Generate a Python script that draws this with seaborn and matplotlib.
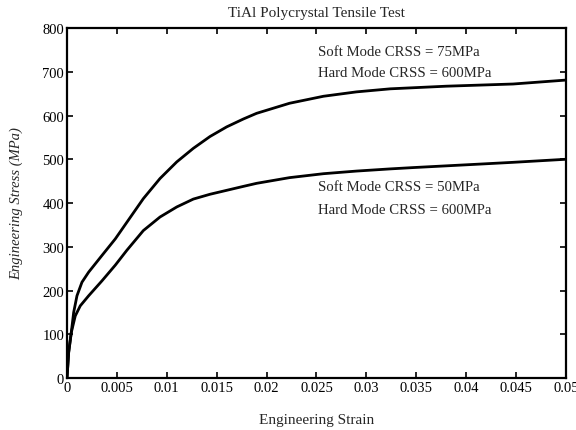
import numpy as np
import pandas as pd
import matplotlib
matplotlib.use("Agg")
import matplotlib.pyplot as plt
import seaborn as sns

# Data
strain_75 = [0.0, 0.00017, 0.00043, 0.00067, 0.001, 0.0015, 0.00217, 0.0035, 0.00484,
             0.006, 0.00765, 0.00932, 0.011, 0.01266, 0.01433, 0.016, 0.01767, 0.019,
             0.0223, 0.0257, 0.029, 0.0324, 0.038, 0.0447, 0.05]
stress_75 = [0, 59, 104, 150, 188, 219, 242, 280, 318,
             356, 410, 456, 494, 525, 552, 574, 592, 605,
             628, 644, 654, 661, 667, 672, 681]
strain_50 = [0.0, 0.00017, 0.00043, 0.00083, 0.00133, 0.00217, 0.0035, 0.00484,
             0.006, 0.00765, 0.00932, 0.011, 0.01266, 0.01433, 0.016, 0.01767, 0.019,
             0.0223, 0.0257, 0.029, 0.0324, 0.0347, 0.0414, 0.0447, 0.05]
stress_50 = [0, 59, 104, 142, 165, 188, 222, 258,
             292, 337, 368, 391, 409, 420, 429, 438, 445,
             458, 467, 473, 478, 481, 489, 493, 500]
labels_75 = ["Soft Mode CRSS = 75MPa", "Hard Mode CRSS = 600MPa"]
labels_50 = ["Soft Mode CRSS = 50MPa", "Hard Mode CRSS = 600MPa"]

df = pd.concat([
    pd.DataFrame({"strain": strain_75, "stress": stress_75, "case": "75"}),
    pd.DataFrame({"strain": strain_50, "stress": stress_50, "case": "50"}),
])

sns.set_style("ticks")
plt.rcParams["font.family"] = ["Liberation Serif", "DejaVu Serif"]

fig = plt.figure(figsize=(5.76, 4.31), dpi=100)
ax = fig.add_axes([0.1163, 0.1206, 0.8663, 0.8121])

sns.lineplot(data=df, x="strain", y="stress", units="case", estimator=None,
             color="black", lw=2.0, ax=ax, sort=False, legend=False)

ax.set_xlim(0, 0.05)
ax.set_ylim(0, 800)
ax.set_xticks(np.arange(0, 0.0501, 0.005))
ax.set_xticklabels(["0", "0.005", "0.01", "0.015", "0.02", "0.025", "0.03",
                    "0.035", "0.04", "0.045", "0.05"])
ax.set_yticks(np.arange(0, 801, 100))
ax.tick_params(direction="in", top=True, right=True, length=4, width=1.2,
               labelsize=10.5, pad=2, colors="black")
for s in ax.spines.values():
    s.set_linewidth(1.6)
    s.set_color("black")

ax.set_xlabel("Engineering Strain", fontsize=11, labelpad=14)
ax.set_ylabel("Engineering Stress (MPa)", fontsize=10.5, style="italic", labelpad=14)
ax.set_title("TiAl Polycrystal Tensile Test", fontsize=11, pad=9)

ax.text(0.0252, 747, labels_75[0], fontsize=10.6, va="center")
ax.text(0.0252, 699, labels_75[1], fontsize=10.6, va="center")
ax.text(0.0252, 437, labels_50[0], fontsize=10.6, va="center")
ax.text(0.0252, 386, labels_50[1], fontsize=10.6, va="center")

fig.savefig("out.png", dpi=100)
